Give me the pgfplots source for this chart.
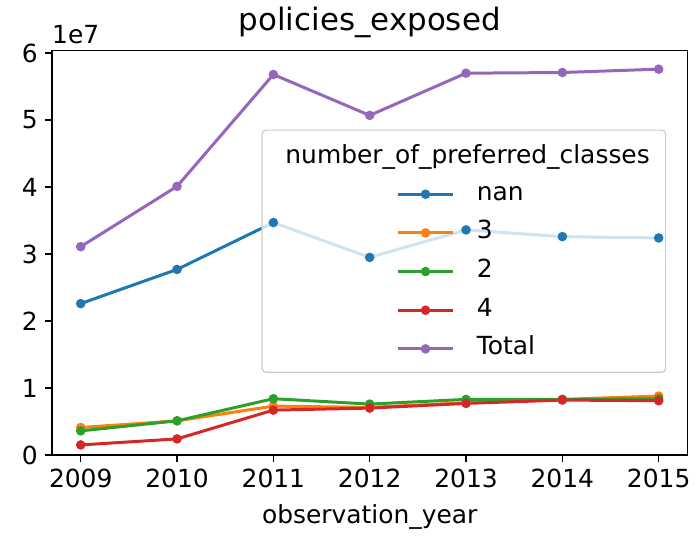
\documentclass[border=0pt]{standalone}
\usepackage{fontspec}
\setmainfont{DejaVu Sans}
\usepackage{pgfplots}
\pgfplotsset{compat=1.18}
\definecolor{c0}{HTML}{1F77B4}
\definecolor{c1}{HTML}{FF7F0E}
\definecolor{c2}{HTML}{2CA02C}
\definecolor{c3}{HTML}{D62728}
\definecolor{c4}{HTML}{9467BD}
\begin{document}
\begin{tikzpicture}
\begin{axis}[
    name=ax,
    scale only axis,
    width=319pt, height=203pt,
    xmin=2008.7, xmax=2015.3,
    ymin=0, ymax=6.04e7,
    xtick={2009,2010,2011,2012,2013,2014,2015},
    xticklabels={2009,2010,2011,2012,2013,2014,2015},
    ytick={0,1e7,2e7,3e7,4e7,5e7,6e7},
    yticklabels={0,1,2,3,4,5,6},
    scaled y ticks=false,
    tick label style={font=\fontsize{12.5}{15}\selectfont},
    label style={font=\fontsize{12.5}{15}\selectfont},
    xlabel style={yshift=-1.5pt},
    title style={font=\fontsize{15.5}{18}\selectfont, yshift=-3pt},
    title={policies\_exposed},
    xlabel={observation\_year},
    tick align=outside,
    major tick length=3.5pt,
    tick style={black, line width=0.6pt},
    xtick pos=bottom, ytick pos=left,
    axis line style={line width=0.8pt},
    clip=false,
    every axis plot/.append style={line width=1.5pt, mark=*, mark size=1.6pt},
    legend style={
        at={(0.541,0.680)}, anchor=north west,
        draw=none, fill=none, inner sep=0pt,
        nodes={inner sep=1pt, text height=9pt, text depth=3pt, font=\fontsize{12.5}{15}\selectfont},
        row sep=5.4pt,
        /tikz/every odd column/.append style={column sep=10pt},
    },
    legend cell align=left,
    legend image code/.code={
        \draw[mark repeat=2, mark phase=2] plot coordinates {(0pt,0pt) (14pt,0pt) (28pt,0pt)};
    },
]
\addplot[c0] coordinates {(2009,22600000) (2010,27700000) (2011,34700000) (2012,29500000) (2013,33600000) (2014,32600000) (2015,32400000)};
\addlegendentry{nan}
\addplot[c1] coordinates {(2009,4100000) (2010,5100000) (2011,7300000) (2012,7100000) (2013,7800000) (2014,8300000) (2015,8800000)};
\addlegendentry{3}
\addplot[c2] coordinates {(2009,3600000) (2010,5100000) (2011,8400000) (2012,7600000) (2013,8300000) (2014,8300000) (2015,8400000)};
\addlegendentry{2}
\addplot[c3] coordinates {(2009,1500000) (2010,2400000) (2011,6700000) (2012,7000000) (2013,7700000) (2014,8200000) (2015,8100000)};
\addlegendentry{4}
\addplot[c4] coordinates {(2009,31100000) (2010,40100000) (2011,56800000) (2012,50700000) (2013,57000000) (2014,57100000) (2015,57600000)};
\addlegendentry{Total}
% legend frame and title
\draw[draw=black!20, line width=0.6pt, fill=white, fill opacity=0.8, rounded corners=2pt]
    (rel axis cs:0.3307,0.2044) rectangle (rel axis cs:0.9655,0.803);
\node[anchor=base, inner sep=0pt, font=\fontsize{12.5}{15}\selectfont] at (rel axis cs:0.654,0.7217) {number\_of\_preferred\_classes};
\node[anchor=base west, inner sep=0pt, font=\fontsize{12.5}{15}\selectfont] at ([yshift=3.5pt]rel axis cs:0,1) {1e7};
\end{axis}
\path ([xshift=-26pt, yshift=-40pt]ax.south west) rectangle ([xshift=3.5pt, yshift=25pt]ax.north east);
\end{tikzpicture}
\end{document}
